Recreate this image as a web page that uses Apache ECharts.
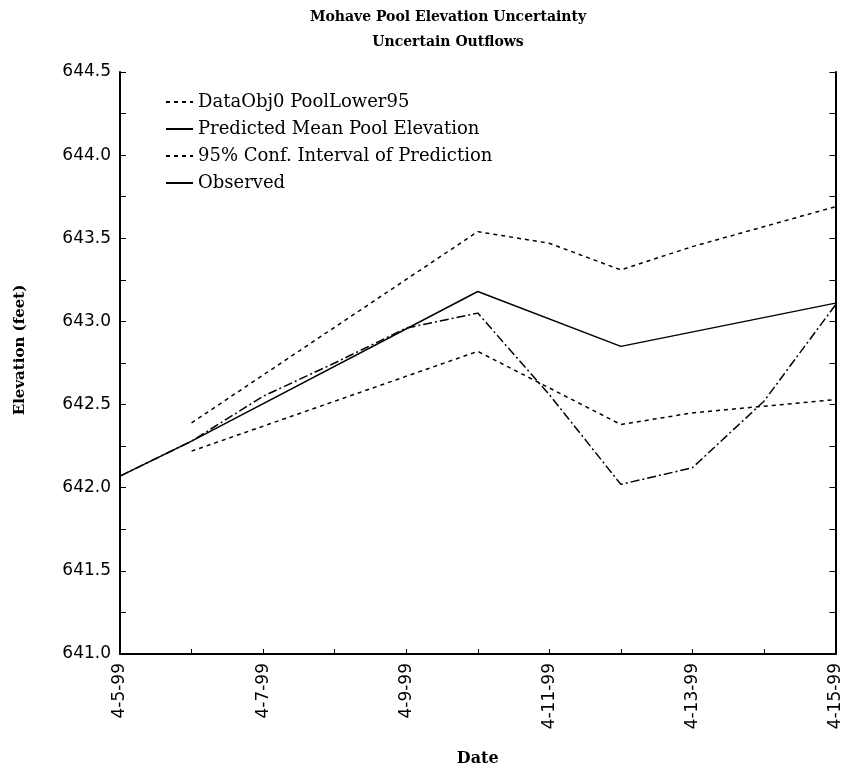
<!DOCTYPE html>
<html>
<head>
<meta charset="utf-8">
<script src="https://cdn.jsdelivr.net/npm/echarts@6/dist/echarts.min.js"></script>
<style>
  html, body { margin: 0; padding: 0; background: #fff; }
  #chart { width: 844px; height: 772px; }
</style>
</head>
<body>
<div id="chart"></div>
<script>
const dates = ['4-5-99', '4-6-99', '4-7-99', '4-8-99', '4-9-99', '4-10-99', '4-11-99', '4-12-99', '4-13-99', '4-14-99', '4-15-99'];

// null = no vertex on that day, the line is drawn straight through
const lower95 = [null, 642.22, null, null, null, 642.82, null, 642.38, 642.45, null, 642.53];
const predictedMean = [642.07, 642.28, null, null, null, 643.18, null, 642.85, null, null, 643.11];
const upper95 = [null, 642.39, null, null, null, 643.54, 643.47, 643.31, 643.45, null, 643.69];
const observed = [642.07, 642.28, 642.55, 642.75, 642.96, 643.05, 642.56, 642.02, 642.12, 642.52, 643.10];

const serif = '"DejaVu Serif", "Liberation Serif", serif';
const sans = '"DejaVu Sans", sans-serif';

const chart = echarts.init(document.getElementById('chart'));

const lineSeries = (name, data, type) => ({
    name: name,
    type: 'line',
    data: data,
    connectNulls: true,
    showSymbol: false,
    symbol: 'none',
    silent: true,
    itemStyle: { color: '#000' },
    lineStyle: { color: '#000', width: 1.5, type: type }
});

chart.setOption({
    animation: false,
    title: {
        text: 'Mohave Pool Elevation Uncertainty\nUncertain Outflows',
        left: 443,
        top: 0,
        textAlign: 'center',
        textStyle: { fontFamily: serif, fontWeight: 'bold', fontSize: 14, lineHeight: 25, color: '#000' }
    },
    legend: {
        orient: 'vertical',
        left: 165,
        top: 93,
        padding: 0,
        itemWidth: 27,
        itemHeight: 10,
        itemGap: 9,
        itemStyle: { color: 'transparent', borderWidth: 0 },
        textStyle: { fontFamily: serif, fontSize: 18, color: '#000' },
        data: [
            'DataObj0 PoolLower95',
            'Predicted Mean Pool Elevation',
            '95% Conf. Interval of Prediction',
            { name: 'Observed', lineStyle: { type: 'solid' } }
        ]
    },
    grid: { left: 120, right: 2, top: 72, bottom: 117 },
    xAxis: {
        type: 'category',
        data: dates,
        boundaryGap: false,
        name: 'Date',
        nameLocation: 'middle',
        nameGap: 97,
        nameTextStyle: { fontFamily: serif, fontWeight: 'bold', fontSize: 16, color: '#000' },
        axisLine: { lineStyle: { color: '#000', width: 2 } },
        axisTick: { inside: true, length: 5, interval: 0, lineStyle: { color: '#000' } },
        axisLabel: { interval: 1, rotate: 90, margin: 9, fontFamily: sans, fontSize: 17, color: '#000' },
        splitLine: { show: false }
    },
    yAxis: [{
        type: 'value',
        min: 641,
        max: 644.5,
        interval: 0.25,
        name: 'Elevation (feet)',
        nameLocation: 'middle',
        nameGap: 92,
        nameTextStyle: { fontFamily: serif, fontWeight: 'bold', fontSize: 15, color: '#000', padding: [0, 0, 0, 26] },
        axisLine: { show: true, lineStyle: { color: '#000', width: 2 } },
        axisTick: { show: true, inside: true, length: 6, lineStyle: { color: '#000' } },
        axisLabel: {
            margin: 9,
            fontFamily: sans,
            fontSize: 17,
            color: '#000',
            formatter: v => (Math.round(v * 100) % 50 === 0 ? v.toFixed(1) : '')
        },
        splitLine: { show: false }
    }, {
        type: 'value',
        position: 'right',
        min: 641,
        max: 644.5,
        interval: 0.25,
        axisLine: { show: true, lineStyle: { color: '#000', width: 2 } },
        axisTick: { show: true, inside: true, length: 6, lineStyle: { color: '#000' } },
        axisLabel: { show: false },
        splitLine: { show: false }
    }],
    series: [
        lineSeries('DataObj0 PoolLower95', lower95, [4, 4]),
        lineSeries('Predicted Mean Pool Elevation', predictedMean, 'solid'),
        lineSeries('95% Conf. Interval of Prediction', upper95, [4, 4]),
        lineSeries('Observed', observed, [9, 3, 2, 3])
    ]
});
</script>
</body>
</html>
